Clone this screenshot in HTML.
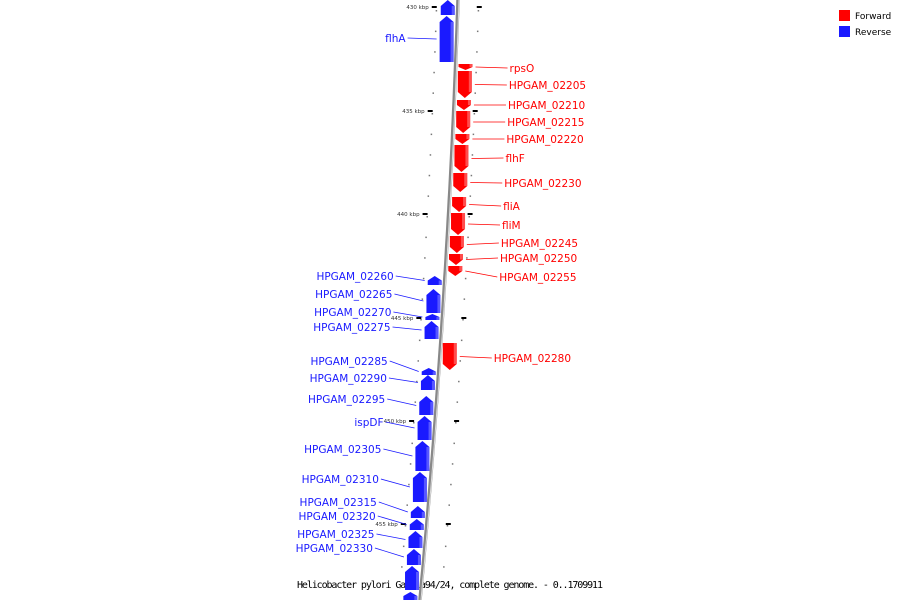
<!DOCTYPE html>
<html><head><meta charset="utf-8"><style>
body{margin:0;background:#fff}
svg{display:block;font-family:"DejaVu Sans","Liberation Sans",sans-serif}
</style></head><body>
<svg id="map" width="900" height="600" viewBox="0 0 900 600" xmlns="http://www.w3.org/2000/svg">
<g>
<rect x="839" y="10" width="11" height="11" fill="#ff0000"/>
<text x="855" y="19" font-size="9" fill="#000">Forward</text>
<rect x="839" y="26" width="11" height="11" fill="#1a1aff"/>
<text x="855" y="35" font-size="9" fill="#000">Reverse</text>
</g>
<text x="450" y="588" font-size="10" text-anchor="middle" fill="#000" font-family="DejaVu Sans Mono, Liberation Mono, monospace" textLength="306">Helicobacter pylori Gambia94/24, complete genome. - 0..1709911</text>
</svg>
<script>
// gene data: [name, strand(1 fwd/-1 rev), startY, endY, labelY]
const geneNames=["","flhA","rpsO","HPGAM_02205","HPGAM_02210","HPGAM_02215","HPGAM_02220","flhF","HPGAM_02230","fliA","fliM","HPGAM_02245","HPGAM_02250","HPGAM_02255","HPGAM_02260","HPGAM_02265","HPGAM_02270","HPGAM_02275","HPGAM_02280","HPGAM_02285","HPGAM_02290","HPGAM_02295","ispDF","HPGAM_02305","HPGAM_02310","HPGAM_02315","HPGAM_02320","HPGAM_02325","HPGAM_02330","",""];
const geneStrand=[-1,-1,1,1,1,1,1,1,1,1,1,1,1,1,-1,-1,-1,-1,1,-1,-1,-1,-1,-1,-1,-1,-1,-1,-1,-1,-1];
const geneStart=[0,16,64,71,100,111,134,145,173,197,213,236,254,266,276,289,314,321,343,368,375,396,416,441,472,506,519,531,549,566,592];
const geneEnd=[15,62,70,98,110,133,144,172,192,212,235,253,265,276,285,313,320,339,370,375,390,415,440,471,502,518,530,548,565,590,600];
const labelY=[0,38,68,85,105,122,139,158,183,206,225,243,258,277,276,294,312,327,358,361,378,399,422,449,479,502,516,534,548,0,0];
const tickLabels=["430 kbp","435 kbp","440 kbp","445 kbp","450 kbp","455 kbp"];
const tickY=[7,111,214,318,421,524];
const NS="http://www.w3.org/2000/svg";
const svg=document.getElementById("map");
function bb(y){const t=y/600;return 458-20*t-18*t*t;}
function mk(tag,attrs,parent){const e=document.createElementNS(NS,tag);for(const k in attrs)e.setAttribute(k,attrs[k]);(parent||svg).appendChild(e);return e;}
// minor dots
for(let y=10;y<600;y+=20.6){
 const d1=mk("rect",{x:bb(y)-22,y:y,width:1.5,height:1.5,fill:"#777"});
 
 
 const d2=mk("rect",{x:bb(y)+20,y:y,width:1.5,height:1.5,fill:"#777"});
 
 
}
tickY.forEach((y,i)=>{
 const a=mk("rect",{x:bb(y)-26,y:y-1,width:5,height:2,fill:"#000"});
 
 
 const b=mk("rect",{x:bb(y)+19,y:y-1,width:5,height:2,fill:"#000"});
 
 
 const t=mk("text",{x:bb(y)-29,y:y+2,"font-size":"5.5","text-anchor":"end",fill:"#333"});
 t.textContent=tickLabels[i];
 
 
});
// backbone
let dpath="";for(let y=0;y<=600;y+=10)dpath+=(y?"L":"M")+bb(y).toFixed(1)+" "+y;
const bl=mk("path",{d:dpath,stroke:"#888",fill:"none","stroke-width":"3.5"});


const bl2=mk("path",{d:dpath,stroke:"#ddd",fill:"none","stroke-width":"1",transform:"translate(1,0)"});


geneNames.forEach((n,i)=>{
 const s=geneStrand[i],y0=geneStart[i],y1=geneEnd[i];
 const c=bb((y0+y1)/2);
 const xa=s>0?c+3:c-17,xb=xa+14;
 const col=s>0?"#ff0000":"#1a1aff";
 const h=Math.min(6,(y1-y0)/2);
 let pts;
 if(s>0) pts=[[xa,y0],[xb,y0],[xb,y1-h],[(xa+xb)/2,y1],[xa,y1-h]];
 else pts=[[(xa+xb)/2,y0],[xb,y0+h],[xb,y1],[xa,y1],[xa,y0+h]];
 const p=mk("polygon",{points:pts.map(q=>q.join(",")).join(" "),fill:col});
 
 
 const sh=mk("rect",{x:xb-3,y:y0+(s<0?h:0),width:3,height:Math.max(0,y1-y0-h),fill:s>0?"#ff8080":"#8080ff",opacity:"0.6"});
 
 
 if(!n)return;
 const ly=labelY[i],my=(y0+y1)/2;
 if(s>0){
  const l=mk("line",{x1:xb+3,y1:my,x2:xb+35,y2:ly,stroke:col,"stroke-width":"0.8"});
  
  
  const t=mk("text",{x:xb+37,y:ly+4,"font-size":"10.5",fill:col});
  t.textContent=n;
  
  
 }else{
  const l=mk("line",{x1:xa-3,y1:my,x2:xa-32,y2:ly,stroke:col,"stroke-width":"0.8"});
  
  
  const t=mk("text",{x:xa-34,y:ly+4,"font-size":"10.5",fill:col,"text-anchor":"end"});
  t.textContent=n;
  
  
 }
});
</script>
</body></html>
